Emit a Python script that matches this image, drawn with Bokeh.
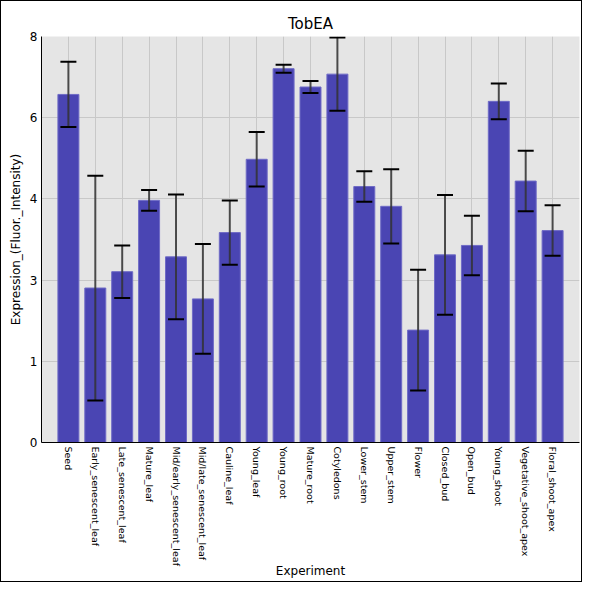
import math
from bokeh.plotting import figure
from bokeh.models import ColumnDataSource, Range1d, FixedTicker, Whisker, TeeHead
from bokeh.embed import file_html
from bokeh.resources import INLINE

categories = ["Seed", "Early_senescent_leaf", "Late_senescent_leaf", "Mature_leaf",
              "Mid/early_senescent_leaf", "Mid/late_senescent_leaf", "Cauline_leaf",
              "Young_leaf", "Young_root", "Mature_root", "Cotyledons", "Lower_stem",
              "Upper_stem", "Flower", "Closed_bud", "Open_bud", "Young_shoot",
              "Vegetative_shoot_apex", "Floral_shoot_apex"]
means = [7.03, 3.12, 3.45, 4.89, 3.75, 2.90, 4.24, 5.72, 7.55, 7.18, 7.44, 5.17,
         4.77, 2.27, 3.79, 3.98, 6.89, 5.28, 4.28]
errors = [0.66, 2.27, 0.53, 0.21, 1.26, 1.11, 0.65, 0.55, 0.08, 0.12, 0.74, 0.31,
          0.75, 1.22, 1.21, 0.60, 0.36, 0.61, 0.51]
y_ticks = [0, 1.64, 3.28, 4.92, 6.56, 8.2]
y_tick_labels = ["0", "1", "3", "4", "6", "8"]

xs = list(range(1, len(categories) + 1))
src = ColumnDataSource(dict(
    x=xs, top=means,
    upper=[m + e for m, e in zip(means, errors)],
    lower=[m - e for m, e in zip(means, errors)],
))

FONT = "DejaVu Sans"
p = figure(width=582, height=582, output_backend="svg", toolbar_location=None,
           x_range=Range1d(0, len(categories) + 1), y_range=Range1d(0, 8.2),
           title="TobEA", min_border_left=40, min_border_right=4,
           min_border_top=35, min_border_bottom=141)
p.styles = {"border": "1px solid black"}
p.title.align = "center"
p.title.text_font = FONT
p.title.text_font_size = "15px"
p.title.text_font_style = "normal"
p.title.text_color = "black"
p.title.standoff = 8

p.background_fill_color = "#e5e5e5"
p.border_fill_color = "white"
p.outline_line_color = None

p.vbar(x="x", top="top", bottom=0, width=0.78, source=src,
       fill_color="#4a45b3", line_color="#6f6bc6", line_width=1)

w = Whisker(base="x", upper="upper", lower="lower", source=src, level="overlay",
            line_color="#333333", line_alpha=0.85, line_width=2,
            upper_head=TeeHead(size=16, line_color="black", line_width=2),
            lower_head=TeeHead(size=16, line_color="black", line_width=2))
p.add_layout(w)

p.xaxis.ticker = FixedTicker(ticks=xs)
p.xaxis.major_label_overrides = {x: c for x, c in zip(xs, categories)}
p.xaxis.major_label_orientation = -math.pi / 2
p.yaxis.ticker = FixedTicker(ticks=y_ticks)
p.yaxis.major_label_overrides = {t: l for t, l in zip(y_ticks, y_tick_labels)}

for ax in (p.xaxis[0], p.yaxis[0]):
    ax.axis_line_color = "black"
    ax.axis_line_width = 1
    ax.major_tick_in = 0
    ax.major_tick_out = 0
    ax.minor_tick_line_color = None
    ax.major_label_text_font = FONT
    ax.major_label_text_color = "black"
    ax.axis_label_text_font = FONT
    ax.axis_label_text_color = "black"
    ax.axis_label_text_font_style = "normal"
    ax.axis_label_text_font_size = "12px"
    ax.major_label_standoff = 4

p.xaxis.major_label_text_font_size = "9.5px"
p.yaxis.major_label_text_font_size = "12px"
p.xaxis.axis_label = "Experiment"
p.yaxis.axis_label = "Expression_(Fluor._Intensity)"
p.xaxis.axis_label_standoff = -5
p.yaxis.axis_label_standoff = 4

p.xgrid.grid_line_color = "#c8c8c8"
p.ygrid.grid_line_color = "#c8c8c8"
p.xgrid.grid_line_width = 1
p.ygrid.grid_line_width = 1

open("out.html", "w").write(file_html(p, INLINE))
